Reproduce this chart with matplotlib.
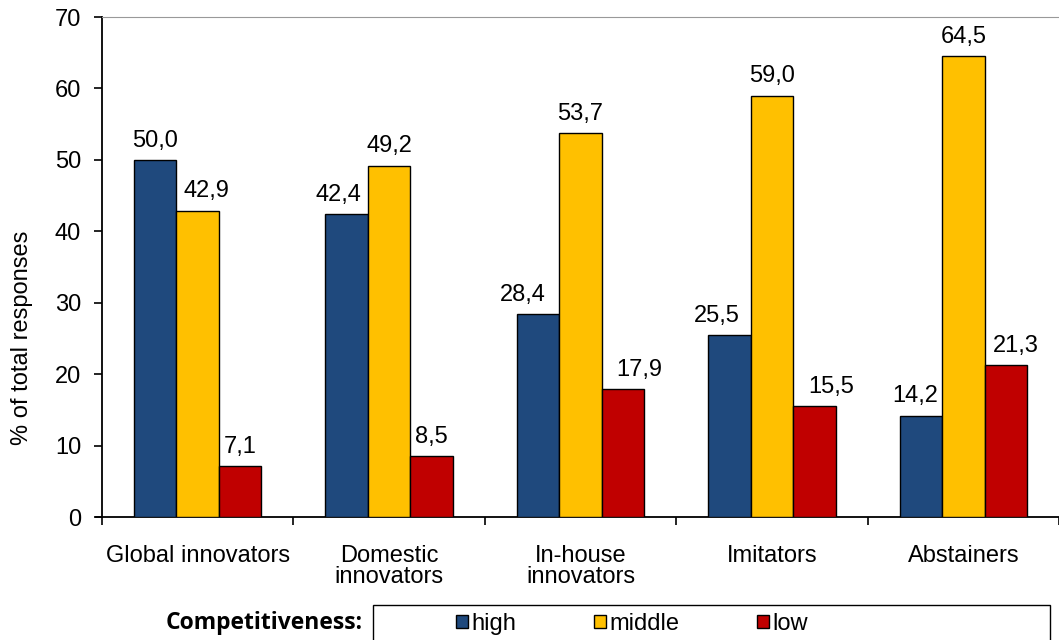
import numpy as np
import matplotlib.pyplot as plt
from matplotlib.patches import Rectangle

plt.rcParams['font.family'] = ['Liberation Sans', 'DejaVu Sans']

# Survey shares by innovation group and competitiveness level
groups = ["Global innovators", "Domestic\ninnovators", "In-house\ninnovators",
          "Imitators", "Abstainers"]
high = [50.0, 42.4, 28.4, 25.5, 14.2]
middle = [42.9, 49.2, 53.7, 59.0, 64.5]
low = [7.1, 8.5, 17.9, 15.5, 21.3]
series_names = ["high", "middle", "low"]
colors = ["#1F497D", "#FFC000", "#C00000"]

# sideways nudges (points) so value labels clear the neighbouring bars
label_shift = [
    [0, -6, -11, -9, -4],
    [6, 0, 0, 0, 0],
    [0, 0, 12, 12, 7],
]

FS = 17

fig = plt.figure(figsize=(10.59, 6.40), dpi=100)
ax = fig.add_axes([102 / 1059, 1 - 517 / 640, (1059 - 102) / 1059, 500 / 640])

x = np.arange(len(groups))
w = 0.222
bars = []
for k, vals in enumerate([high, middle, low]):
    b = ax.bar(x + (k - 1) * w, vals, w, color=colors[k], edgecolor="black",
               linewidth=1.0, label=series_names[k], zorder=3)
    bars.append(b)
    for xi, v, dx in zip(x + (k - 1) * w, vals, label_shift[k]):
        ax.annotate(f"{v:.1f}".replace(".", ","), (xi, v), xytext=(dx, 6),
                    textcoords="offset points", ha="center", va="bottom",
                    fontsize=FS)

ax.set_ylim(0, 70)
ax.set_yticks(range(0, 71, 10))
ax.set_xlim(-0.5, -0.5 + (1059 - 102) / 194)

# category boundaries carry the tick marks, labels sit at centres
ax.set_xticks(np.arange(-0.5, 4.6, 1.0))
ax.set_xticklabels([])
ax.set_xticks(x, minor=True)
ax.set_xticklabels(groups, minor=True, fontsize=FS, linespacing=0.95)
ax.tick_params(axis="x", which="minor", length=0, pad=20)
ax.tick_params(axis="x", which="major", direction="out", length=6, width=1.2)
ax.tick_params(axis="y", direction="out", length=6, width=1.2, labelsize=FS, pad=9)

ax.spines["right"].set_visible(False)
ax.spines["top"].set_color("#999999")
ax.spines["left"].set_linewidth(1.3)
ax.spines["bottom"].set_linewidth(1.3)
ax.spines["bottom"].set_bounds(-0.5 - 6 / 194, 10)

fig.text(22 / 1059, 1 - 338 / 640, "% of total responses", rotation=90,
         ha="center", va="center", fontsize=FS)

# legend frame at the bottom
fig.patches.append(Rectangle((373 / 1059, -0.05), (1050 - 373) / 1059,
                             1 - 605 / 640 + 0.05, transform=fig.transFigure,
                             fill=False, edgecolor="black", linewidth=1.0))
fig.text(363 / 1059, 1 - 623 / 640, "Competitiveness:", ha="right", va="center",
         fontsize=16.5, fontweight="bold", family=["Open Sans", "DejaVu Sans"])
leg = fig.legend(handles=bars, labels=series_names, loc="center",
                 bbox_to_anchor=(632 / 1059, 1 - 624 / 640), ncol=3,
                 frameon=False, fontsize=FS, handlelength=0.5, handleheight=0.5,
                 handletextpad=0.15, columnspacing=3.3)

fig.savefig("out.png", dpi=100)
